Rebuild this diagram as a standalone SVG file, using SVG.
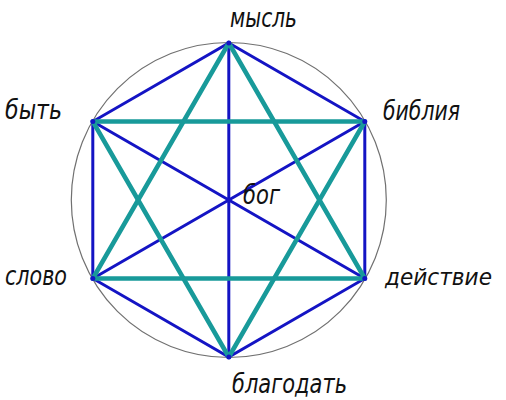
<svg xmlns="http://www.w3.org/2000/svg" width="506" height="400" viewBox="0 0 506 400">
<style>
.blue{stroke:#1414c4;stroke-width:3;fill:none;stroke-linecap:round}
.teal{stroke:#189a9a;stroke-width:4.5;fill:none;stroke-linecap:round}
.ring{stroke:#707070;stroke-width:1.2;fill:none}
.dot{fill:#1414c4}
.lbl{font-family:"DejaVu Sans","Liberation Sans",sans-serif;font-style:italic;font-size:26px;fill:#111}
</style>
<rect width="506" height="400" fill="#fff"/>
<circle class="ring" cx="228.8" cy="200" r="157.5"/>
<g id="connectors">
<polygon class="blue" points="228.8,43 364.8,121.5 364.8,278.5 228.8,357 92.8,278.5 92.8,121.5"/>
<line class="blue" x1="228.8" y1="43" x2="228.8" y2="357"/>
<line class="blue" x1="92.8" y1="121.5" x2="364.8" y2="278.5"/>
<line class="blue" x1="364.8" y1="121.5" x2="92.8" y2="278.5"/>
<polygon class="teal" points="228.8,43 364.8,278.5 92.8,278.5" stroke-linejoin="round"/>
<polygon class="teal" points="228.8,357 92.8,121.5 364.8,121.5" stroke-linejoin="round"/>
</g>
<g id="node-mysl"><circle class="dot" cx="228.8" cy="43" r="2.5"/><text class="lbl" x="230" y="27" textLength="67" lengthAdjust="spacingAndGlyphs">мысль</text></g>
<g id="node-bibliya"><circle class="dot" cx="364.8" cy="121.5" r="2.5"/><text class="lbl" x="383" y="120" textLength="77" lengthAdjust="spacingAndGlyphs">библия</text></g>
<g id="node-deystvie"><circle class="dot" cx="364.8" cy="278.5" r="2.5"/><text class="lbl" x="385" y="285" textLength="107" lengthAdjust="spacingAndGlyphs" style="font-size:23px">действие</text></g>
<g id="node-blagodat"><circle class="dot" cx="228.8" cy="357" r="2.5"/><text class="lbl" x="232" y="393" textLength="115" lengthAdjust="spacingAndGlyphs">благодать</text></g>
<g id="node-slovo"><circle class="dot" cx="92.8" cy="278.5" r="2.5"/><text class="lbl" x="5" y="285" textLength="62" lengthAdjust="spacingAndGlyphs">слово</text></g>
<g id="node-byt"><circle class="dot" cx="92.8" cy="121.5" r="2.5"/><text class="lbl" x="5" y="119" textLength="57" lengthAdjust="spacingAndGlyphs">быть</text></g>
<g id="node-bog"><circle class="dot" cx="228.8" cy="200" r="2.5"/><text class="lbl" x="243" y="204" textLength="37" lengthAdjust="spacingAndGlyphs">бог</text></g>
</svg>
